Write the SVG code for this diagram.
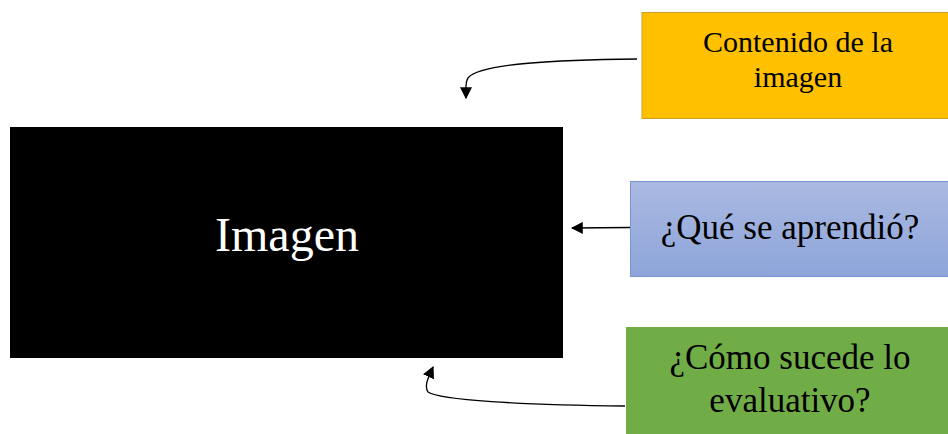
<svg xmlns="http://www.w3.org/2000/svg" width="948" height="434" viewBox="0 0 948 434">
<style>
.t{font-family:"Liberation Serif","Times New Roman",serif;text-anchor:middle;fill:#000}
.c{fill:none;stroke:#000;stroke-width:1.3}
</style>
<defs>
<marker id="ah" viewBox="0 0 10 10" refX="9" refY="5" markerWidth="12" markerHeight="12" markerUnits="userSpaceOnUse" orient="auto">
<path d="M0,0L10,5L0,10z" fill="#000"/>
</marker>
<linearGradient id="bg" x1="0" y1="0" x2="0" y2="1">
<stop offset="0" stop-color="#AAB9E1"/>
<stop offset="1" stop-color="#8DA5DA"/>
</linearGradient>
</defs>
<rect width="948" height="434" fill="#fff"/>
<g id="imagen">
<rect x="10" y="127" width="553" height="231" fill="#000"/>
<text class="t" x="287" y="251" font-size="48" style="fill:#fff">Imagen</text>
</g>
<g id="contenido">
<rect x="642" y="12.5" width="310" height="106" fill="#FFC000" stroke="#C9A227" stroke-width="1"/>
<text class="t" x="798" y="52" font-size="30">Contenido de la</text>
<text class="t" x="798" y="87" font-size="30">imagen</text>
</g>
<g id="aprendio">
<rect x="630.5" y="181.5" width="320" height="95" fill="url(#bg)" stroke="#7A93D1" stroke-width="1"/>
<text class="t" x="790" y="239" font-size="35">¿Qué se aprendió?</text>
</g>
<g id="evaluativo">
<rect x="626" y="327" width="325" height="110" fill="#70AD47"/>
<text class="t" x="790" y="369" font-size="35">¿Cómo sucede lo</text>
<text class="t" x="790" y="412" font-size="35">evaluativo?</text>
</g>
<g id="connectors">
<path class="c" d="M637,59 C560,60 480,63 468,78 C465,82 466,88 466,98" marker-end="url(#ah)"/>
<path class="c" d="M630,227.5 L572,228" marker-end="url(#ah)"/>
<path class="c" d="M625,406 C520,405 440,400 428,392 C424,386 428,378 433,367" marker-end="url(#ah)"/>
</g>
</svg>
